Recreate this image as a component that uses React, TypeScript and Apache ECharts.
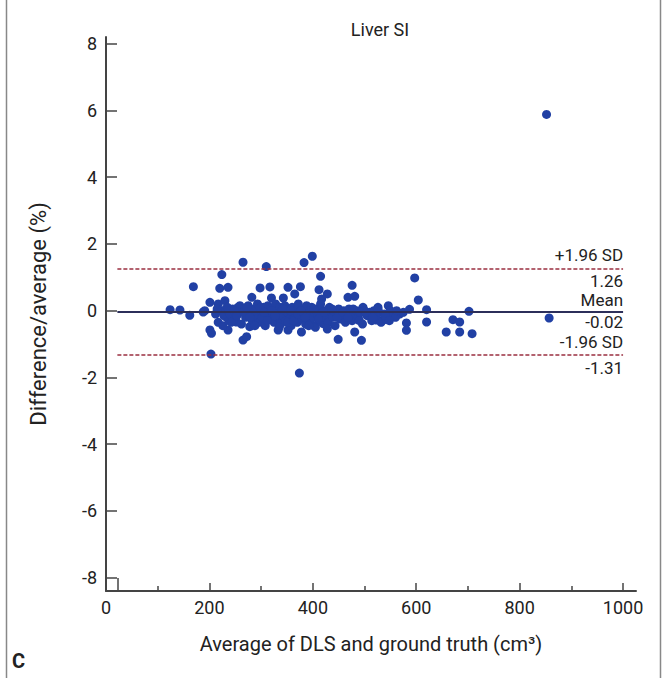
import React, { useEffect, useRef } from "react";
import * as echarts from "echarts";

const title = "Liver SI";
const xAxisName = "Average of DLS and ground truth (cm³)";
const yAxisName = "Difference/average (%)";
const panelLetter = "C";

const xTicks = [0, 200, 400, 600, 800, 1000];
const xMinorTicks = [100, 300, 500, 700, 900];
const cornerTick = [23];
const yTicks = [-8, -6, -4, -2, 0, 2, 4, 6, 8];

const meanValue = -0.02;
const upperLimit = 1.26;
const lowerLimit = -1.31;

// Sparse / identifiable points
const sparseX = [124, 143, 162, 169, 188, 191, 201, 201, 204, 203, 217, 217, 224, 220, 236, 230, 233, 236, 252, 259, 265, 265, 272, 278, 282, 298, 310, 317, 320, 343, 352, 365, 376, 383, 399, 374, 378, 415, 412, 428, 417, 449, 468, 476, 481, 481, 494, 333, 352, 401, 420, 597, 604, 620, 620, 581, 581, 587, 546, 526, 497, 523, 536, 546, 568, 658, 671, 684, 684, 702, 708, 857, 852];
const sparseD = [0.03, 0.02, -0.14, 0.72, -0.04, 0.0, 0.25, -0.58, -0.68, -1.3, 0.2, -0.35, 1.08, 0.67, 0.7, 0.3, -0.2, -0.58, -0.34, 0.15, 1.45, -0.88, -0.78, -0.48, 0.4, 0.68, 1.32, 0.71, 0.38, 0.38, 0.7, 0.5, 0.72, 1.44, 1.63, -1.87, -0.64, 1.03, 0.63, 0.5, 0.35, -0.86, 0.4, 0.76, 0.43, -0.64, -0.89, -0.58, -0.58, -0.44, -0.39, 0.98, 0.32, 0.03, -0.34, -0.37, -0.59, 0.04, 0.15, 0.1, 0.1, -0.28, -0.28, -0.08, -0.1, -0.64, -0.27, -0.34, -0.64, -0.02, -0.69, -0.22, 5.88];

// Dense band of points around the mean
const denseX = [212, 222, 226, 228, 232, 238, 240, 245, 250, 255, 258, 262, 268, 270, 275, 280, 283, 286, 290, 293, 296, 300, 302, 305, 308, 310, 313, 316, 318, 322, 325, 328, 330, 333, 336, 338, 340, 343, 346, 348, 350, 353, 355, 358, 360, 362, 365, 368, 370, 372, 375, 378, 380, 383, 386, 388, 390, 393, 395, 398, 400, 403, 405, 408, 410, 413, 415, 418, 420, 423, 426, 430, 432, 435, 438, 440, 443, 446, 450, 453, 456, 460, 463, 466, 470, 473, 476, 480, 485, 488, 492, 496, 500, 505, 510, 514, 518, 522, 528, 532, 538, 542, 550, 556, 560, 575];
const denseD = [-0.1, 0.0, -0.45, -0.15, 0.05, -0.3, -0.1, 0.05, -0.25, 0.1, -0.05, -0.4, 0.0, -0.2, 0.15, -0.1, -0.3, 0.05, -0.15, 0.2, -0.35, 0.0, -0.2, 0.1, -0.45, -0.05, 0.15, -0.25, 0.05, -0.1, -0.35, 0.2, -0.05, -0.2, 0.1, -0.4, 0.0, -0.15, 0.15, -0.3, -0.05, 0.05, -0.25, -0.45, 0.1, -0.1, -0.2, 0.0, -0.35, 0.2, -0.1, -0.25, 0.05, -0.05, -0.4, 0.15, -0.15, -0.3, 0.0, 0.1, -0.2, -0.05, -0.5, 0.05, -0.15, -0.3, 0.2, -0.05, -0.2, 0.0, -0.1, -0.35, 0.1, -0.05, -0.2, 0.0, -0.45, -0.1, 0.05, -0.25, -0.1, 0.0, -0.35, -0.15, 0.05, -0.05, -0.3, -0.1, 0.0, -0.2, -0.05, -0.4, 0.0, -0.15, -0.05, -0.3, 0.0, -0.15, -0.05, -0.35, -0.1, -0.25, 0.0, -0.1, -0.2, -0.05];

const extraX = [215, 235, 242, 248, 253, 266, 272, 278, 288, 298, 306, 312, 320, 327, 335, 342, 351, 357, 363, 371, 377, 385, 392, 402, 411, 421, 428, 437, 447, 458, 468, 478, 490, 503, 516, 526, 540, 548, 562];
const extraD = [0.05, 0.1, -0.35, 0.0, -0.15, -0.05, 0.1, -0.2, -0.45, 0.1, -0.05, -0.3, 0.0, -0.15, -0.5, 0.05, -0.35, 0.0, -0.3, -0.1, 0.0, -0.2, -0.45, 0.05, -0.25, -0.05, -0.55, 0.05, -0.2, -0.05, -0.2, 0.05, -0.3, -0.05, -0.2, 0.05, -0.15, -0.3, 0.0];

const FONT = "Roboto, 'Liberation Sans', sans-serif";

export default function App() {
  const ref = useRef<HTMLDivElement>(null);
  useEffect(() => {
    document.body.style.margin = "0";
    const chart = echarts.init(ref.current!, null, { renderer: "svg" });
    const points: number[][] = [];
    sparseX.forEach((x, i) => points.push([x, sparseD[i]]));
    denseX.forEach((x, i) => points.push([x, denseD[i]]));
    extraX.forEach((x, i) => points.push([x, extraD[i]]));

    const lineStart = 22;
    const lineEnd = 1000;
    const labelBase = { color: "#222", fontSize: 17, lineHeight: 14, fontFamily: FONT };
    const hidden = { color: "rgba(0,0,0,0)", width: 0 };
    const tickStyle = { color: "#444", width: 1.5 };

    chart.setOption({
      animation: false,
      backgroundColor: "#fff",
      grid: { left: 106, right: 28, top: 37, bottom: 87, containLabel: false },
      xAxis: [
        {
          type: "value",
          min: 0,
          max: 1025,
          name: xAxisName,
          nameLocation: "middle",
          nameGap: 43,
          nameTextStyle: { color: "#222", fontSize: 20, fontFamily: FONT },
          axisLine: { show: true, onZero: false, lineStyle: { color: "#444", width: 2 } },
          axisTick: { show: true, inside: true, length: 8, customValues: xTicks, lineStyle: tickStyle },
          axisLabel: { customValues: xTicks, color: "#222", fontSize: 18, fontFamily: FONT, margin: 7, formatter: (v: number) => String(v) },
          splitLine: { show: false },
        },
        {
          type: "value",
          min: 0,
          max: 1025,
          position: "bottom",
          axisLine: { show: false, onZero: false },
          axisTick: { show: true, inside: true, length: 5, customValues: xMinorTicks, lineStyle: tickStyle },
          axisLabel: { show: false, customValues: xMinorTicks },
          splitLine: { show: false },
        },
        {
          type: "value",
          min: 0,
          max: 1025,
          position: "bottom",
          axisLine: { show: false, onZero: false },
          axisTick: { show: true, inside: true, length: 13, customValues: cornerTick, lineStyle: tickStyle },
          axisLabel: { show: false, customValues: cornerTick },
          splitLine: { show: false },
        },
      ],
      yAxis: {
        type: "value",
        min: -8.4,
        max: 8.2,
        name: yAxisName,
        nameLocation: "middle",
        nameGap: 57,
        nameTextStyle: { color: "#222", fontSize: 22, fontFamily: FONT },
        axisLine: { show: true, onZero: false, lineStyle: { color: "#444", width: 2 } },
        axisTick: { show: true, inside: true, length: 11, customValues: yTicks, lineStyle: tickStyle },
        axisLabel: { customValues: yTicks, color: "#222", fontSize: 18, fontFamily: FONT, margin: 9 },
        splitLine: { show: false },
      },
      graphic: [
        { type: "text", x: 380, y: 29, style: { text: title, fill: "#222", fontSize: 18, fontFamily: FONT, textAlign: "center", textVerticalAlign: "middle" } },
        { type: "text", x: 12, y: 651, style: { text: panelLetter, fill: "#222", fontSize: 20, fontWeight: "bold", fontFamily: FONT } },
        { type: "line", shape: { x1: 6.5, y1: 0, x2: 6.5, y2: 678 }, style: { stroke: "#888", lineWidth: 1.5 } },
        { type: "line", shape: { x1: 660.5, y1: 0, x2: 660.5, y2: 678 }, style: { stroke: "#888", lineWidth: 1.5 } },
      ],
      series: [
        {
          type: "scatter",
          data: points,
          symbol: "circle",
          symbolSize: 9,
          itemStyle: { color: "#2140a4", opacity: 1 },
          z: 3,
          markLine: {
            silent: true,
            symbol: ["none", "none"],
            data: [
              [
                { coord: [lineStart, upperLimit], lineStyle: { color: "#9a2f40", type: [4, 2], width: 1.6 }, label: { ...labelBase, position: "insideEndTop", formatter: "+1.96 SD", distance: [0, 7] } },
                { coord: [lineEnd, upperLimit] },
              ],
              [
                { coord: [lineStart, upperLimit], lineStyle: hidden, label: { ...labelBase, position: "insideEndBottom", formatter: "1.26", distance: [0, 5] } },
                { coord: [lineEnd, upperLimit] },
              ],
              [
                { coord: [lineStart, meanValue], lineStyle: { color: "#2c2f5a", type: "solid", width: 1.8 }, label: { ...labelBase, position: "insideEndTop", formatter: "Mean", distance: [0, 4] } },
                { coord: [lineEnd, meanValue] },
              ],
              [
                { coord: [lineStart, meanValue], lineStyle: hidden, label: { ...labelBase, position: "insideEndBottom", formatter: "-0.02", distance: [0, 4] } },
                { coord: [lineEnd, meanValue] },
              ],
              [
                { coord: [lineStart, lowerLimit], lineStyle: { color: "#9a2f40", type: [4, 2], width: 1.6 }, label: { ...labelBase, position: "insideEndTop", formatter: "-1.96 SD", distance: [0, 5] } },
                { coord: [lineEnd, lowerLimit] },
              ],
              [
                { coord: [lineStart, lowerLimit], lineStyle: hidden, label: { ...labelBase, position: "insideEndBottom", formatter: "-1.31", distance: [0, 7] } },
                { coord: [lineEnd, lowerLimit] },
              ],
            ],
          },
        },
      ],
    });
    return () => chart.dispose();
  }, []);
  return <div ref={ref} style={{ width: 664, height: 678 }} />;
}
